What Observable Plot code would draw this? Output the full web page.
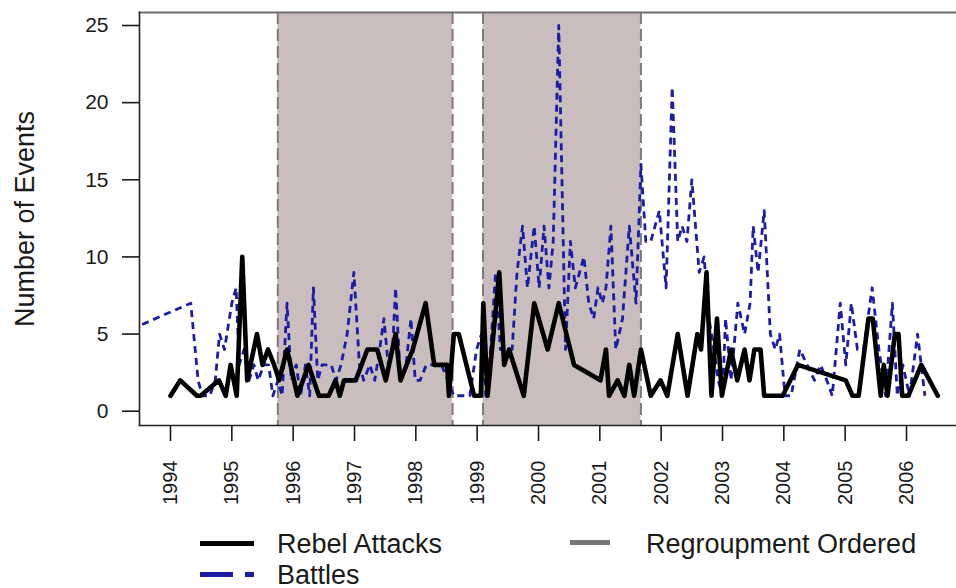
<!DOCTYPE html>
<html><head><meta charset="utf-8">
<script src="https://cdn.jsdelivr.net/npm/d3@7"></script>
<script src="https://cdn.jsdelivr.net/npm/@observablehq/plot@0.6"></script>
<style>
html,body{margin:0;padding:0;background:#fff;}
#wrap{position:relative;width:956px;height:588px;overflow:hidden;font-family:"Liberation Sans",Arial,sans-serif;color:#1a1a1a;}
#wrap svg{position:absolute;left:0;top:0;}
.sw{position:absolute;}
.lt{position:absolute;font-size:27px;line-height:22px;white-space:nowrap;}
</style></head>
<body><div id="wrap"></div>
<script>
// Rebel attacks (black solid)
const attackYears = [1994.00,1994.16,1994.43,1994.49,1994.79,1994.90,1994.98,1995.08,1995.17,1995.25,1995.41,1995.50,1995.59,1995.69,1995.77,1995.90,1996.07,1996.25,1996.42,1996.58,1996.69,1996.76,1996.83,1997.02,1997.21,1997.37,1997.51,1997.67,1997.75,1997.95,1998.16,1998.30,1998.51,1998.54,1998.62,1998.70,1998.95,1999.06,1999.10,1999.17,1999.36,1999.44,1999.52,1999.76,1999.93,2000.15,2000.33,2000.58,2001.01,2001.10,2001.15,2001.29,2001.40,2001.48,2001.56,2001.67,2001.83,2001.99,2002.10,2002.27,2002.43,2002.59,2002.65,2002.74,2002.82,2002.91,2002.99,2003.14,2003.24,2003.36,2003.44,2003.52,2003.62,2003.68,2003.98,2004.23,2005.01,2005.12,2005.22,2005.38,2005.45,2005.58,2005.63,2005.69,2005.81,2005.87,2005.93,2006.03,2006.24,2006.51];
const attackCounts = [1,2,1,1,2,1,3,1,10,2,5,3,4,3,2,4,1,3,1,1,2,1,2,2,4,4,2,5,2,4,7,3,3,1,5,5,1,1,7,1,9,3,4,1,7,4,7,3,2,4,1,2,1,3,1,4,1,2,1,5,1,5,4,9,1,6,1,4,2,4,2,4,4,1,1,3,2,1,1,6,6,1,3,1,5,5,1,1,3,1];

// Battles (blue dashed)
const battleYears = [1993.18,1994.33,1994.45,1994.52,1994.64,1994.73,1994.80,1994.88,1995.00,1995.07,1995.12,1995.20,1995.28,1995.36,1995.43,1995.52,1995.60,1995.67,1995.75,1995.82,1995.90,1995.97,1996.05,1996.12,1996.20,1996.27,1996.33,1996.40,1996.47,1996.62,1996.70,1996.78,1996.88,1996.99,1997.08,1997.15,1997.25,1997.33,1997.41,1997.48,1997.55,1997.62,1997.67,1997.75,1997.84,1997.92,1997.99,1998.07,1998.17,1998.30,1998.42,1998.52,1998.62,1998.73,1998.88,1998.99,1999.07,1999.14,1999.22,1999.30,1999.38,1999.49,1999.57,1999.65,1999.74,1999.82,1999.93,2000.01,2000.09,2000.17,2000.24,2000.33,2000.44,2000.52,2000.60,2000.67,2000.74,2000.82,2000.90,2000.97,2001.04,2001.10,2001.18,2001.26,2001.37,2001.48,2001.59,2001.67,2001.75,2001.83,2001.97,2002.08,2002.18,2002.27,2002.34,2002.42,2002.50,2002.62,2002.70,2002.78,2002.86,2002.93,2003.00,2003.05,2003.14,2003.25,2003.36,2003.45,2003.50,2003.58,2003.68,2003.78,2003.86,2003.93,2004.02,2004.12,2004.26,2004.38,2004.50,2004.60,2004.70,2004.79,2004.92,2005.01,2005.10,2005.20,2005.30,2005.44,2005.55,2005.66,2005.77,2005.85,2005.94,2006.05,2006.18,2006.30];
const battleCounts = [5,7,2,1,1,2,5,4,7,8,3,4,2,3,2,3,3,1,2,1,7,2,3,1,3,1,8,2,3,3,2,3,5,9,3,2,3,2,4,6,3,4,8,2,3,6,2,2,3,3,3,2,1,1,1,4,5,1,4,9,4,4,4,9,12,8,12,8,12,8,11,25,4,11,8,9,10,7,6,8,7,8,12,4,6,12,7,16,11,11,13,8,21,11,12,11,15,9,10,6,4,2,1,6,2,7,5,7,12,9,13,5,4,5,1,1,4,3,2,3,2,1,7,3,7,4,4,8,4,1,7,1,3,1,5,1];

// Regroupment ordered periods
const regroupStart = [1995.75, 1999.095];
const regroupEnd = [1998.60, 2001.67];

// Axis ticks
const yearTicks = [1994,1995,1996,1997,1998,1999,2000,2001,2002,2003,2004,2005,2006];
const countTicks = [0,5,10,15,20,25];

const attacks = attackYears.map((t,i)=>({t, v: attackCounts[i]}));
const battles = battleYears.map((t,i)=>({t, v: battleCounts[i]}));
const periods = regroupStart.map((s,i)=>({s, e: regroupEnd[i]}));

const chart = Plot.plot({
  width: 956, height: 588,
  marginLeft: 139, marginRight: 0, marginTop: 12, marginBottom: 163,
  style: {fontFamily: "'Liberation Sans', Arial, sans-serif", fontSize: "20px", color: "#1a1a1a", background: "transparent", overflow: "visible"},
  x: {domain: [1993.4946, 2006.8152]},
  y: {domain: [-0.927, 25.843]},
  marks: [
    Plot.rect(periods, {x1: "s", x2: "e", fill: "#c9bdbd"}),
    Plot.ruleX([...regroupStart, ...regroupEnd], {stroke: "#7b7b7b", strokeWidth: 2, strokeDasharray: "12,5"}),
    Plot.line(battles, {x: "t", y: "v", stroke: "#1c1ca6", strokeWidth: 2.8, strokeDasharray: "7,5", strokeLinecap: "butt", clip: true}),
    Plot.line(attacks, {x: "t", y: "v", stroke: "#000", strokeWidth: 4.6}),
    Plot.frame({anchor: "top", stroke: "#6e6e6e", strokeWidth: 2}),
    Plot.frame({anchor: "left", stroke: "#222", strokeWidth: 1.6}),
    Plot.frame({anchor: "bottom", stroke: "#222", strokeWidth: 1.6}),
    Plot.axisX({ticks: yearTicks, tickSize: 16, tickPadding: 19, tickRotate: -90, tickFormat: d => String(d), fontSize: 20, label: null, strokeWidth: 1.6}),
    Plot.axisY({ticks: countTicks, tickSize: 17, tickPadding: 14, fontSize: 21, label: null, strokeWidth: 1.6}),
    Plot.text(["Number of Events"], {frameAnchor: "left", dx: -106, rotate: -90, fontSize: 27, textAnchor: "middle", lineAnchor: "bottom", fill: "#1a1a1a"})
  ]
});
const wrap = document.getElementById("wrap");
wrap.appendChild(chart);

// Legend (below the plot area)
const legend = [
  {kind: "solid", color: "#000", x: 200, w: 54, y: 540.5, h: 5, label: "Rebel Attacks", tx: 277, ty: 532.5},
  {kind: "dash", color: "#1c1ca6", x: 200, w: 54, y: 571.5, h: 5, label: "Battles", tx: 277, ty: 563.5},
  {kind: "solid", color: "#777", x: 570, w: 40, y: 540, h: 5, label: "Regroupment Ordered", tx: 646, ty: 532.5}
];
for (const it of legend) {
  if (it.kind === "solid") {
    const d = document.createElement("div");
    d.className = "sw";
    Object.assign(d.style, {left: it.x + "px", top: it.y + "px", width: it.w + "px", height: it.h + "px", background: it.color});
    wrap.appendChild(d);
  } else {
    for (const [a, b] of [[0, 33], [45, 54]]) {
      const d = document.createElement("div");
      d.className = "sw";
      Object.assign(d.style, {left: (it.x + a) + "px", top: it.y + "px", width: (b - a) + "px", height: it.h + "px", background: it.color});
      wrap.appendChild(d);
    }
  }
  const t = document.createElement("div");
  t.className = "lt";
  t.textContent = it.label;
  Object.assign(t.style, {left: it.tx + "px", top: it.ty + "px"});
  wrap.appendChild(t);
}
</script>
</body></html>
